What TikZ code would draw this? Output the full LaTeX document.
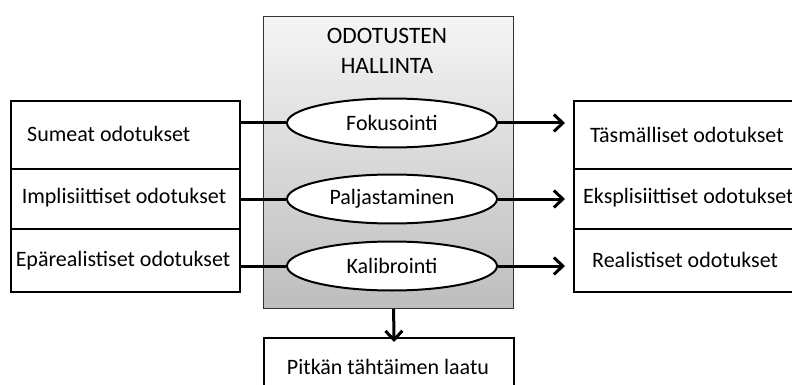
\documentclass[tikz,border=0pt]{standalone}
\usepackage{fontspec}
\setmainfont{Carlito}
\usetikzlibrary{arrows.meta,shapes.geometric}
\begin{document}
\begin{tikzpicture}[x=1pt,y=-1pt,
  box/.style={draw=black,line width=2pt,anchor=north west,inner sep=0pt},
  txt/.style={inner sep=0pt,font=\fontsize{22}{24}\selectfont,text=black},
  oval/.style={ellipse,draw=black,line width=2pt,fill=white,minimum width=210pt,minimum height=49pt,inner sep=0pt,font=\fontsize{22}{24}\selectfont},
  conn/.style={line width=3pt,draw=black},
  arr/.style={conn,-{Straight Barb[length=9pt,width=17pt,line width=3pt]}}]
\useasboundingbox (0,0) rectangle (792,385);
\clip (0,0) rectangle (792,385);
\fill[white] (0,0) rectangle (792,385);
% central box
\node[box,draw=black!80,line width=1.2pt,top color=black!4,bottom color=black!26,minimum width=250pt,minimum height=292pt] (c) at (263,16) {};
\node[txt,align=center,font=\fontsize{23.5}{30}\selectfont] (title) at (387,51) {ODOTUSTEN\\HALLINTA};
% left boxes
\node[box,minimum width=229pt,minimum height=68pt] (l1) at (10,100) {};
\node[box,minimum width=229pt,minimum height=60pt] (l2) at (10,168) {};
\node[box,minimum width=229pt,minimum height=63pt] (l3) at (10,228) {};
\node[txt,anchor=west] (lt1) at (27,134) {Sumeat odotukset};
\node[txt] (lt2) at (124,198) {Implisiittiset odotukset};
\node[txt] (lt3) at (123,261) {Epärealistiset odotukset};
% right boxes
\node[box,minimum width=240pt,minimum height=68pt] (r1) at (573,100) {};
\node[box,minimum width=240pt,minimum height=60pt] (r2) at (573,168) {};
\node[box,minimum width=240pt,minimum height=63pt] (r3) at (573,228) {};
\node[txt,anchor=west] (rt1) at (590,135) {Täsmälliset odotukset};
\node[txt,anchor=west] (rt2) at (583,198) {Eksplisiittiset odotukset};
\node[txt,anchor=west] (rt3) at (592,260) {Realistiset odotukset};
% ovals
\node[oval] (e1) at (392,123) {Fokusointi};
\node[oval] (e2) at (392,199) {Paljastaminen};
\node[oval] (e3) at (392,266) {Kalibrointi};
% bottom box
\node[box,minimum width=250pt,minimum height=60pt] (b) at (263,337) {};
\node[txt] (bt) at (388,367) {Pitkän tähtäimen laatu};
% connectors
\draw[conn] (l1.east |- e1.west) -- (e1.west);
\draw[conn] (l2.east |- e2.west) -- (e2.west);
\draw[conn] (l3.east |- e3.west) -- (e3.west);
\draw[arr] (e1.east) -- ([xshift=-8pt]r1.west |- e1.east);
\draw[arr] (e2.east) -- ([xshift=-8pt]r2.west |- e2.east);
\draw[arr] (e3.east) -- ([xshift=-8pt]r3.west |- e3.east);
\draw[arr] ([xshift=5pt]c.south) -- ([xshift=5pt,yshift=-5pt]b.north);
\end{tikzpicture}
\end{document}
